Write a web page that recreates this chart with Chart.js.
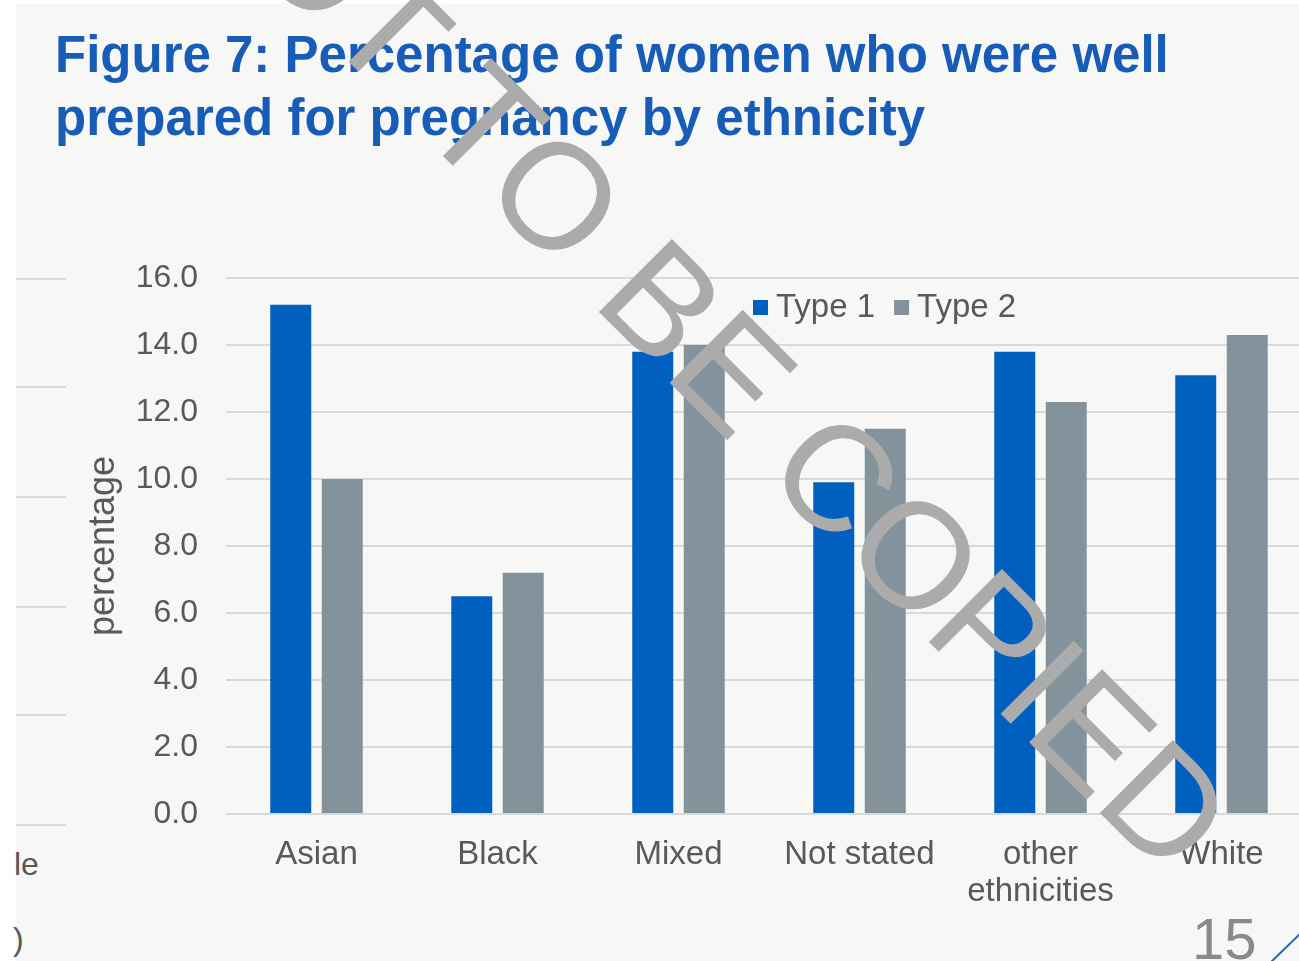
<!DOCTYPE html>
<html lang="en">
<head>
<meta charset="UTF-8">
<title>Figure 7: Percentage of women who were well prepared for pregnancy by ethnicity</title>
<script src="https://cdn.jsdelivr.net/npm/chart.js"></script>
<style>
  html, body { margin: 0; padding: 0; background: #fff; overflow: hidden; }
  body { width: 1299px; height: 961px; position: relative; font-family: "Liberation Sans", Arial, sans-serif; }
  .slide { position: absolute; left: 16px; top: 4px; right: 0; bottom: 0; background: #f7f7f6; }
  h1 { position: absolute; left: 55px; top: 23px; margin: 0; font-size: 51px; line-height: 63px; font-weight: bold; color: #175db8; }
  .rule { position: absolute; left: 16px; width: 50px; height: 2px; background: #d9d9d9; }
  .frag { position: absolute; color: #595959; font-size: 32px; line-height: 32px; }
  .page { position: absolute; left: 1192px; top: 910px; font-size: 58px; line-height: 58px; color: #8a8a8a; }
  #corner { position: absolute; left: 0; top: 0; }
  #wrap { position: absolute; left: 0; top: 0; }
</style>
</head>
<body>
  <div class="slide"></div>
  <h1>Figure 7: Percentage of women who were well<br>prepared for pregnancy by ethnicity</h1>

  <!-- edge of the neighbouring chart on the left -->
  <div class="rule" style="top:278px"></div>
  <div class="rule" style="top:386px"></div>
  <div class="rule" style="top:496px"></div>
  <div class="rule" style="top:606px"></div>
  <div class="rule" style="top:714px"></div>
  <div class="rule" style="top:824px"></div>
  <div class="frag" style="left:14px; top:848px">le</div>
  <div class="frag" style="left:13px; top:923px">)</div>

  <div class="page">15</div>
  <svg id="corner" width="1299" height="961"><line x1="1271" y1="962" x2="1300" y2="934" stroke="#2a62c0" stroke-width="2"/></svg>

  <div id="wrap"><canvas id="chart" width="1330" height="961"></canvas></div>

<script>
  const categories = ['Asian', 'Black', 'Mixed', 'Not stated', ['other', 'ethnicities'], 'White'];
  const type1 = [15.2, 6.5, 13.8, 9.9, 13.8, 13.1];
  const type2 = [10.0, 7.2, 14.0, 11.5, 12.3, 14.3];
  const seriesNames = ['Type 1', 'Type 2'];
  const yMin = 0, yMax = 16, yStep = 2;

  const FONT = '"Liberation Sans", Arial, sans-serif';
  const TEXT = '#595959';
  const GRID = '#d9d9d9';

  // legend sits inside the plot, watermark goes over everything
  const overlay = {
    id: 'overlay',
    afterDraw(chart) {
      const ctx = chart.ctx;
      ctx.save();
      ctx.font = '33px ' + FONT;
      ctx.textBaseline = 'middle';
      let x = 753;
      chart.data.datasets.forEach(ds => {
        ctx.fillStyle = ds.backgroundColor;
        ctx.fillRect(x, 300, 15, 15);
        ctx.fillStyle = TEXT;
        ctx.fillText(ds.label, x + 23, 308);
        x += 23 + ctx.measureText(ds.label).width + 19;
      });

      ctx.translate(665, 378);
      ctx.rotate(Math.PI / 4);
      ctx.font = '150px ' + FONT;
      ctx.fillStyle = '#ababab';
      ctx.textAlign = 'center';
      ctx.textBaseline = 'alphabetic';
      ctx.fillText('NOT TO BE COPIED', 0, 0);
      ctx.restore();
    }
  };

  new Chart(document.getElementById('chart'), {
    type: 'bar',
    data: {
      labels: categories,
      datasets: [
        { label: seriesNames[0], data: type1, backgroundColor: '#0060c0' },
        { label: seriesNames[1], data: type2, backgroundColor: '#84929c' }
      ]
    },
    options: {
      responsive: false,
      animation: false,
      devicePixelRatio: 1,
      categoryPercentage: 0.569,
      barPercentage: 0.796,
      layout: { padding: { left: 70, right: 18, top: 278, bottom: 47 } },
      plugins: {
        legend: { display: false },
        tooltip: { enabled: false }
      },
      scales: {
        x: {
          grid: { display: false },
          border: { display: false },
          ticks: {
            color: TEXT,
            font: { family: FONT, size: 33, lineHeight: 1.12 },
            padding: 14,
            maxRotation: 0,
            autoSkip: false
          },
          afterFit(scale) { scale.height = 100; }
        },
        y: {
          min: yMin,
          max: yMax,
          border: { display: false },
          grid: { color: GRID, lineWidth: 2, drawTicks: false },
          ticks: {
            stepSize: yStep,
            color: TEXT,
            padding: 28,
            font: { family: FONT, size: 32 },
            callback: v => v.toFixed(1)
          },
          title: {
            display: true,
            text: 'percentage',
            color: TEXT,
            font: { family: FONT, size: 36 },
            padding: { top: 12, bottom: 0 }
          },
          afterFit(scale) { scale.width = 156; }
        }
      }
    },
    plugins: [overlay]
  });
</script>
</body>
</html>
